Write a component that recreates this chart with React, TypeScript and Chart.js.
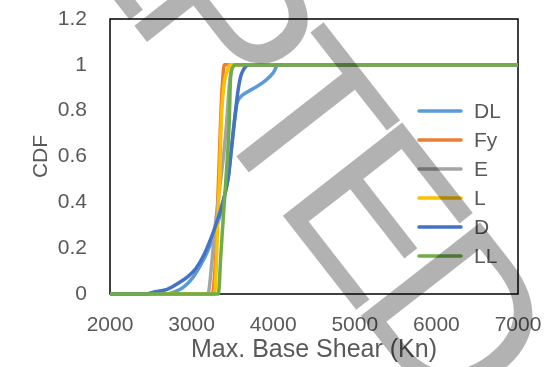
import React, { useEffect, useRef } from "react";
import { Chart, registerables } from "chart.js";

Chart.register(...registerables);

const X_TICKS = [2000, 3000, 4000, 5000, 6000, 7000];
const Y_TICKS = [0, 0.2, 0.4, 0.6, 0.8, 1, 1.2];
const SERIES_NAMES = ["DL", "Fy", "E", "L", "D", "LL"];
const SERIES_COLORS = ["#5B9BD5", "#ED7D31", "#A5A5A5", "#FFC000", "#4472C4", "#70AD47"];

const DL_SHEAR = [2000, 2700, 2800, 2900, 3000, 3100, 3185, 3266, 3330, 3400, 3450, 3490, 3530, 3555, 3600, 3700, 3800, 3900, 4000, 4060, 7000];
const DL_CDF = [0, 0, 0.01, 0.03, 0.065, 0.12, 0.178, 0.25, 0.32, 0.42, 0.51, 0.64, 0.77, 0.83, 0.86, 0.885, 0.905, 0.93, 0.965, 1, 1];

const FY_SHEAR = [2000, 3255, 3275, 3300, 3320, 3340, 3360, 3380, 3400, 7000];
const FY_CDF = [0, 0, 0.05, 0.2, 0.4, 0.6, 0.8, 0.93, 1, 1];

const E_SHEAR = [2000, 3200, 3246, 3290, 3340, 3390, 3430, 3460, 3490, 3510, 7000];
const E_CDF = [0, 0, 0.13, 0.3, 0.45, 0.6, 0.75, 0.9, 0.98, 1, 1];

const L_SHEAR = [2000, 3280, 3300, 3320, 3342, 3356, 3370, 3400, 3430, 3470, 7000];
const L_CDF = [0, 0, 0.1, 0.3, 0.5, 0.67, 0.8, 0.92, 0.965, 1, 1];

const D_SHEAR = [2000, 2450, 2550, 2700, 2850, 2950, 3050, 3150, 3266, 3350, 3410, 3450, 3490, 3530, 3570, 3610, 3670, 3720, 7000];
const D_CDF = [0, 0, 0.01, 0.02, 0.05, 0.075, 0.11, 0.17, 0.27, 0.36, 0.44, 0.51, 0.64, 0.77, 0.89, 0.96, 0.995, 1, 1];

const LL_SHEAR = [2000, 3327, 3360, 3397, 3430, 3461, 3478, 3500, 3530, 7000];
const LL_CDF = [0, 0, 0.18, 0.38, 0.55, 0.745, 0.95, 0.985, 1, 1];

const SERIES_SHEAR = [DL_SHEAR, FY_SHEAR, E_SHEAR, L_SHEAR, D_SHEAR, LL_SHEAR];
const SERIES_CDF = [DL_CDF, FY_CDF, E_CDF, L_CDF, D_CDF, LL_CDF];

const X_TITLE = "Max. Base Shear (Kn)";
const Y_TITLE = "CDF";
const WATERMARK = "ACCEPTED";

const TEXT_COLOR = "#595959";
const FONT = "'Liberation Sans', Arial, sans-serif";

const borderPlugin = {
  id: "plotBorder",
  beforeDatasetsDraw(chart: any) {
    const { ctx, chartArea } = chart;
    ctx.save();
    ctx.strokeStyle = "#000000";
    ctx.lineWidth = 1.5;
    ctx.strokeRect(chartArea.left, chartArea.top, chartArea.right - chartArea.left, chartArea.bottom - chartArea.top);
    ctx.restore();
  },
};

const legendPlugin = {
  id: "insideLegend",
  afterDraw(chart: any) {
    const { ctx } = chart;
    ctx.save();
    ctx.font = `21px ${FONT}`;
    ctx.textBaseline = "middle";
    ctx.textAlign = "left";
    chart.data.datasets.forEach((ds: any, i: number) => {
      const y = 111 + 29 * i;
      ctx.strokeStyle = ds.borderColor;
      ctx.lineWidth = 3.5;
      ctx.lineCap = "round";
      ctx.beginPath();
      ctx.moveTo(419, y);
      ctx.lineTo(461, y);
      ctx.stroke();
      ctx.fillStyle = TEXT_COLOR;
      ctx.fillText(ds.label, 474, y + 1);
    });
    ctx.restore();
  },
};

const watermarkPlugin = {
  id: "watermark",
  afterDraw(chart: any) {
    const { ctx } = chart;
    ctx.save();
    const ang = (52 * Math.PI) / 180;
    const c = Math.cos(ang);
    const s = Math.sin(ang);
    const h0 = 90;
    ctx.translate(h0 * s, -h0 * c);
    ctx.rotate(ang);
    ctx.font = `220px ${FONT}`;
    ctx.fillStyle = "rgba(0,0,0,0.3)";
    ctx.textBaseline = "alphabetic";
    const pre = ctx.measureText(WATERMARK.slice(0, 5)).width;
    const ls = -20;
    (ctx as any).letterSpacing = `${ls}px`;
    const tOrigin = 211.7;
    ctx.fillText(WATERMARK, tOrigin - (pre + 5 * ls), 0);
    ctx.restore();
  },
};

export default function App() {
  const ref = useRef<HTMLCanvasElement | null>(null);

  useEffect(() => {
    document.body.style.margin = "0";
    if (!ref.current) return;
    const datasets = SERIES_NAMES.map((name, i) => ({
      label: name,
      data: SERIES_SHEAR[i].map((x, j) => ({ x, y: SERIES_CDF[i][j] })),
      borderColor: SERIES_COLORS[i],
      backgroundColor: SERIES_COLORS[i],
      borderWidth: 3.5,
      pointRadius: 0,
      fill: false,
      cubicInterpolationMode: "monotone" as const,
      clip: 6,
      order: SERIES_NAMES.length - i,
    }));
    const chart = new Chart(ref.current, {
      type: "line",
      data: { datasets },
      plugins: [borderPlugin, legendPlugin, watermarkPlugin],
      options: {
        animation: false,
        responsive: false,
        devicePixelRatio: 1,
        layout: { padding: { top: 19, right: 26, left: 0, bottom: 0 } },
        plugins: { legend: { display: false }, tooltip: { enabled: false } },
        scales: {
          x: {
            type: "linear",
            min: X_TICKS[0],
            max: X_TICKS[X_TICKS.length - 1],
            grid: { display: false, drawTicks: false },
            border: { display: false },
            afterBuildTicks: (sc: any) => {
              sc.ticks = X_TICKS.map((v) => ({ value: v }));
            },
            afterFit: (sc: any) => {
              sc.height = 73;
              sc.paddingLeft = 0;
              sc.paddingRight = 0;
            },
            ticks: {
              color: TEXT_COLOR,
              font: { family: FONT, size: 21 },
              padding: 19,
              maxRotation: 0,
              autoSkip: false,
              callback: (v: any) => String(v),
            },
            title: {
              display: true,
              text: X_TITLE,
              color: TEXT_COLOR,
              font: { family: FONT, size: 25 },
              padding: { top: 0, bottom: 2 },
            },
          },
          y: {
            type: "linear",
            min: Y_TICKS[0],
            max: Y_TICKS[Y_TICKS.length - 1],
            grid: { display: false, drawTicks: false },
            border: { display: false },
            afterBuildTicks: (sc: any) => {
              sc.ticks = Y_TICKS.map((v) => ({ value: v }));
            },
            afterFit: (sc: any) => {
              sc.width = 110;
              sc.paddingTop = 0;
              sc.paddingBottom = 0;
            },
            ticks: {
              color: TEXT_COLOR,
              font: { family: FONT, size: 21 },
              padding: 23,
              autoSkip: false,
              callback: (v: any) => String(Math.round(Number(v) * 10) / 10),
            },
            title: {
              display: true,
              text: Y_TITLE,
              color: TEXT_COLOR,
              font: { family: FONT, size: 21 },
              padding: { top: 29, bottom: 0 },
            },
          },
        },
      },
    });
    return () => chart.destroy();
  }, []);

  return (
    <div style={{ width: 544, height: 367 }}>
      <canvas ref={ref} width={544} height={367} style={{ display: "block" }} />
    </div>
  );
}
